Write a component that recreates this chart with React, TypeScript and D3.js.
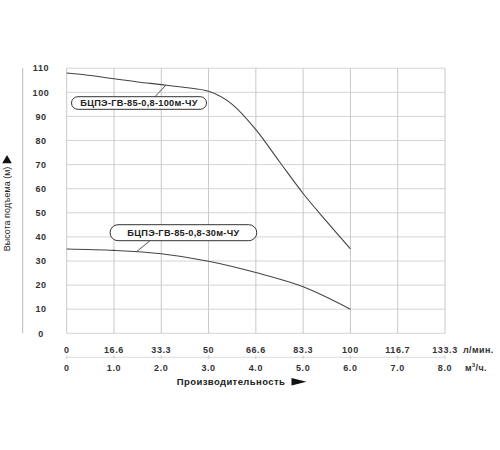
import React, { useEffect, useRef } from 'react';
import * as d3 from 'd3';

// pump curves, flow in m³/h, head in m
const flowHigh = [0, 0.5, 1, 1.5, 2, 2.5, 3, 3.5, 4, 4.5, 5, 5.5, 6];
const headHigh = [108, 107, 105.6, 104.3, 103.2, 102, 100.4, 95, 84.5, 71.2, 58, 46.3, 35];
const flowLow = [0, 1, 2, 3, 4, 5, 6];
const headLow = [35, 34.4, 33, 29.9, 25.2, 19.3, 10];

const yTicks = [0, 10, 20, 30, 40, 50, 60, 70, 80, 90, 100, 110];
const m3hTicks = ['0', '1.0', '2.0', '3.0', '4.0', '5.0', '6.0', '7.0', '8.0'];
const lminTicks = ['0', '16.6', '33.3', '50', '66.6', '83.3', '100', '116.7', '133.3'];

const labelHigh = 'БЦПЭ-ГВ-85-0,8-100м-ЧУ';
const labelLow = 'БЦПЭ-ГВ-85-0,8-30м-ЧУ';

const FONT = '"Liberation Sans", Arial, sans-serif';

const PumpChart: React.FC = () => {
    const ref = useRef<SVGSVGElement | null>(null);

    useEffect(() => {
        if (!ref.current) return;
        const width = 500;
        const height = 450;

        const x = d3.scaleLinear().domain([0, 8]).range([66.7, 445]);
        const y = d3.scaleLinear().domain([0, 110]).range([333.3, 68.2]);

        d3.select(ref.current).selectAll('*').remove();
        const svg = d3.select(ref.current)
            .attr('width', width)
            .attr('height', height)
            .style('font-family', FONT);

        svg.append('rect').attr('width', width).attr('height', height).attr('fill', '#fff');

        // grid
        svg.append('g')
            .selectAll('line')
            .data(yTicks)
            .enter()
            .append('line')
            .attr('x1', x(0))
            .attr('x2', x(8))
            .attr('y1', d => y(d))
            .attr('y2', d => y(d))
            .attr('stroke', '#d4d4d4')
            .attr('stroke-width', 1);

        svg.append('g')
            .selectAll('line')
            .data(d3.range(0, 9))
            .enter()
            .append('line')
            .attr('x1', d => x(d))
            .attr('x2', d => x(d))
            .attr('y1', y(110))
            .attr('y2', y(0))
            .attr('stroke', '#c8c8c8')
            .attr('stroke-width', 1);

        // left vertical line next to the y labels
        svg.append('line')
            .attr('x1', 22.7).attr('x2', 22.7)
            .attr('y1', y(110)).attr('y2', y(0))
            .attr('stroke', '#bbb');

        // y tick labels
        svg.append('g')
            .selectAll('text')
            .data(yTicks)
            .enter()
            .append('text')
            .attr('x', 41)
            .attr('y', d => y(d) + 3.2)
            .attr('text-anchor', 'middle')
            .attr('font-size', '9px')
            .attr('letter-spacing', '0.6px')
            .attr('font-weight', 'bold')
            .attr('fill', '#333')
            .text(d => d);

        // y title
        const yTitle = svg.append('g').attr('transform', 'translate(10,209) rotate(-90)');
        yTitle.append('text')
            .attr('x', 0)
            .attr('y', 0)
            .attr('text-anchor', 'middle')
            .attr('font-size', '9px')
            .attr('fill', '#222')
            .text('Высота подъема (м)');
        yTitle.append('path')
            .attr('d', d3.symbol(d3.symbolTriangle, 40)())
            .attr('transform', 'translate(48.5,-3) rotate(90)')
            .attr('fill', '#111');

        // x tick labels, two rows
        svg.append('g')
            .selectAll('text')
            .data(lminTicks)
            .enter()
            .append('text')
            .attr('x', (d, i) => x(i))
            .attr('y', 352.5)
            .attr('text-anchor', 'middle')
            .attr('font-size', '9px')
            .attr('letter-spacing', '0.6px')
            .attr('font-weight', 'bold')
            .attr('fill', '#333')
            .text(d => d);

        svg.append('g')
            .selectAll('text')
            .data(m3hTicks)
            .enter()
            .append('text')
            .attr('x', (d, i) => x(i))
            .attr('y', 370.5)
            .attr('text-anchor', 'middle')
            .attr('font-size', '9px')
            .attr('letter-spacing', '0.6px')
            .attr('font-weight', 'bold')
            .attr('fill', '#333')
            .text(d => d);

        // thin separator between the rows
        svg.append('line')
            .attr('x1', x(0)).attr('x2', x(8))
            .attr('y1', 357.3).attr('y2', 357.3)
            .attr('stroke', '#ddd');
        svg.append('g')
            .selectAll('line')
            .data(d3.range(0, 9))
            .enter()
            .append('line')
            .attr('x1', d => x(d)).attr('x2', d => x(d))
            .attr('y1', 355.5).attr('y2', 359)
            .attr('stroke', '#ccc');

        svg.append('text')
            .attr('x', 463).attr('y', 352.5)
            .attr('font-size', '9px').attr('letter-spacing', '0.4px')
            .attr('font-weight', 'bold').attr('fill', '#333')
            .text('л/мин.');
        const unit = svg.append('text')
            .attr('x', 465).attr('y', 370.5)
            .attr('font-size', '9px').attr('letter-spacing', '0.4px')
            .attr('font-weight', 'bold').attr('fill', '#333');
        unit.append('tspan').text('м');
        unit.append('tspan').attr('font-size', '5.5px').attr('dy', -3.5).text('3');
        unit.append('tspan').attr('dy', 3.5).text('/ч.');

        // x title
        svg.append('text')
            .attr('x', 231).attr('y', 384.8)
            .attr('text-anchor', 'middle')
            .attr('font-size', '9.5px').attr('letter-spacing', '0.4px')
            .attr('font-weight', 'bold').attr('fill', '#222')
            .text('Производительность');
        svg.append('path')
            .attr('d', 'M291.5,378 L306.5,381.7 L291.5,385.4 Z')
            .attr('fill', '#111');

        // curves
        const line = d3.line<[number, number]>()
            .x(d => x(d[0]))
            .y(d => y(d[1]))
            .curve(d3.curveMonotoneX);

        const high = flowHigh.map((f, i) => [f, headHigh[i]] as [number, number]);
        const low = flowLow.map((f, i) => [f, headLow[i]] as [number, number]);

        [high, low].forEach(pts => {
            svg.append('path')
                .datum(pts)
                .attr('d', line)
                .attr('fill', 'none')
                .attr('stroke', '#444')
                .attr('stroke-width', 1.1);
        });

        // labels with leader lines
        const labels = [
            { text: labelHigh, cx: 139, cy: 103, w: 135, h: 12.6, from: [155, 96.7], to: [2.1, 103] },
            { text: labelLow, cx: 183.4, cy: 232.7, w: 146.7, h: 16, from: [150, 240.7], to: [1.48, 33.9] },
        ];
        labels.forEach(l => {
            svg.append('line')
                .attr('x1', l.from[0]).attr('y1', l.from[1])
                .attr('x2', x(l.to[0])).attr('y2', y(l.to[1]))
                .attr('stroke', '#555');
            svg.append('rect')
                .attr('x', l.cx - l.w / 2).attr('y', l.cy - l.h / 2)
                .attr('width', l.w).attr('height', l.h)
                .attr('rx', l.h / 2).attr('ry', l.h / 2)
                .attr('fill', '#fff')
                .attr('stroke', '#333').attr('stroke-width', 1);
            svg.append('text')
                .attr('x', l.cx).attr('y', l.cy + 3.3)
                .attr('text-anchor', 'middle')
                .attr('font-size', '9.2px').attr('letter-spacing', '0.3px')
                .attr('font-weight', 'bold').attr('fill', '#222')
                .text(l.text);
        });
    }, []);

    return <svg ref={ref} style={{ position: 'absolute', left: 0, top: 0 }} />;
};

export default function App() {
    return <PumpChart />;
}
